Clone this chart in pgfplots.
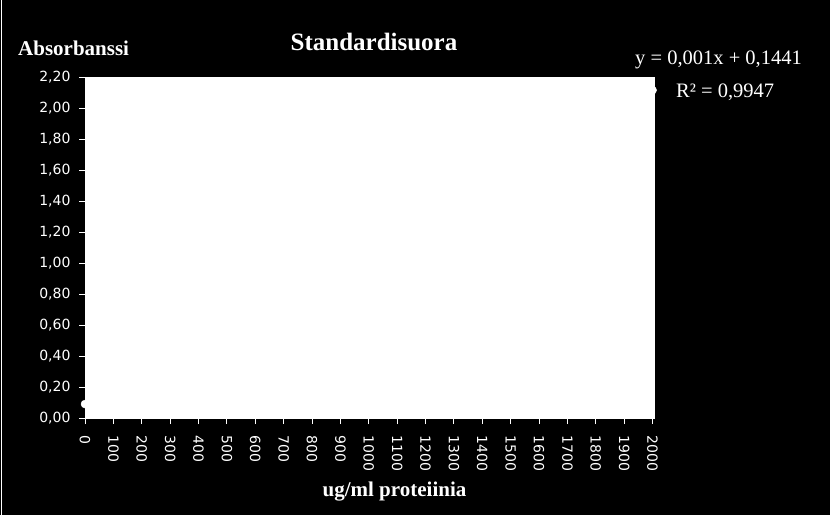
\documentclass[border=0pt]{standalone}
\usepackage{fontspec}
\setmainfont{Liberation Serif}
\newfontfamily\ticksfont{DejaVu Sans}
\usepackage{pgfplots}
\pgfplotsset{compat=1.18}
\begin{document}
\begin{tikzpicture}[x=1pt,y=1pt]
\path[use as bounding box] (0,0) rectangle (830,515);
\fill[black] (0,0) rectangle (830,515);
\draw[white, line width=1.5pt] (1.5,0) -- (1.5,515);
\begin{axis}[
  at={(85pt,97pt)}, anchor=south west,
  scale only axis, width=569pt, height=341pt,
  xmin=0, xmax=2005, ymin=0, ymax=2.2,
  axis background/.style={fill=white},
  axis line style={white},
  clip=false,
  xtick={0,100,...,2000},
  ytick={0,0.2,0.4,0.6,0.8,1.0,1.2,1.4,1.6,1.8,2.0,2.2},
  xtick pos=lower, ytick pos=left,
  tick align=outside, major tick length=6pt,
  tick style={white, line width=1pt},
  xticklabel shift=8pt, yticklabel shift=5pt,
  /pgf/number format/assume math mode=true,
  xticklabel style={font=\ticksfont\fontsize{14}{17}\selectfont, text=white, rotate=-90, anchor=west,
    /pgf/number format/set thousands separator={}},
  yticklabel style={font=\ticksfont\fontsize{14}{17}\selectfont, text=white,
    /pgf/number format/.cd, use comma, fixed, fixed zerofill, precision=2},
]
\addplot[only marks, mark=*, mark size=4pt, white, mark options={fill=white, draw=white}]
  coordinates {(0,0.09) (2000,2.115)};
\end{axis}
\node[anchor=base, inner sep=0, text=white, font=\bfseries\fontsize{25}{30}\selectfont] at (374,464.3) {Standardisuora};
\node[anchor=base west, inner sep=0, text=white, font=\bfseries\fontsize{21}{25}\selectfont] at (18,459) {Absorbanssi};
\node[anchor=base, inner sep=0, text=white, font=\bfseries\fontsize{21}{25}\selectfont] at (394.5,19) {ug/ml proteiinia};
\node[anchor=base west, inner sep=0, text=white, font=\fontsize{20.5}{24}\selectfont] at (635,450) {y = 0,001x + 0,1441};
\node[anchor=base west, inner sep=0, text=white, font=\fontsize{20.5}{24}\selectfont] at (676,417) {R² = 0,9947};
\end{tikzpicture}
\end{document}
